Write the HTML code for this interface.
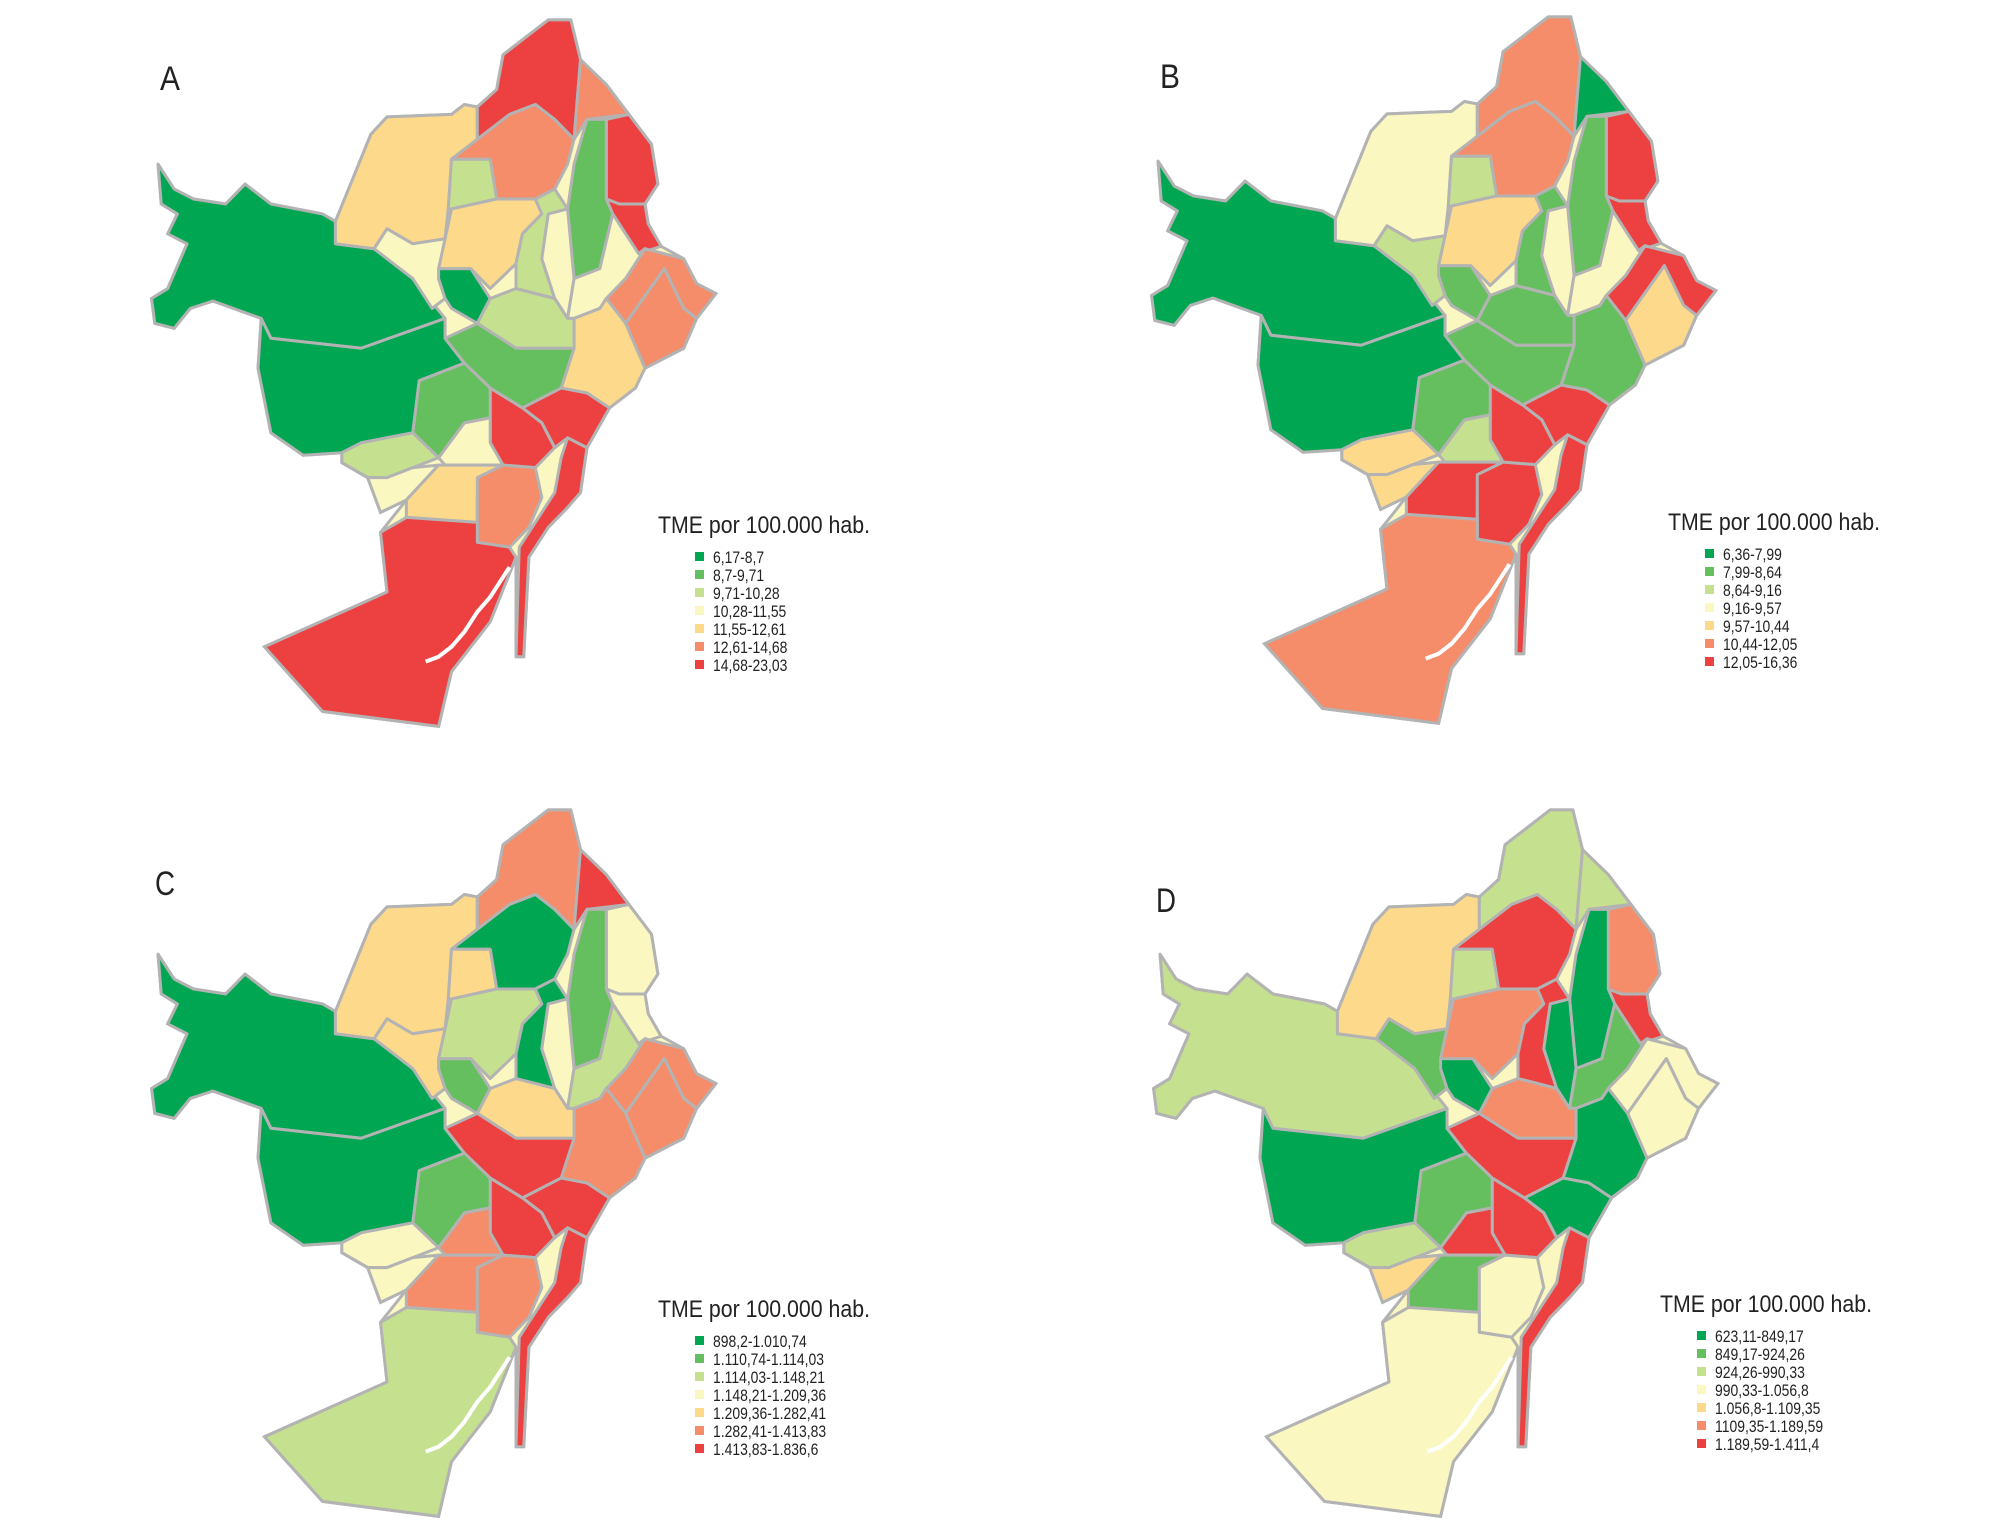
<!DOCTYPE html>
<html><head><meta charset="utf-8">
<style>
html,body{margin:0;padding:0;background:#fff;}
svg{display:block;}
.lbl{font-family:"Liberation Sans Narrow","Liberation Sans",sans-serif;fill:#222;}
</style></head>
<body>
<svg id="fig" width="1995" height="1540" viewBox="0 0 1995 1540" xmlns="http://www.w3.org/2000/svg">
<rect width="1995" height="1540" fill="#fff"/>
</svg>
<script>
const palette = ["#00a651","#66bf5f","#c5e08e","#fbf7c0","#fdd98b","#f58d6a","#ed4040"];
const panelNames = ["A","B","C","D"];
const legendA = ["6,17-8,7","8,7-9,71","9,71-10,28","10,28-11,55","11,55-12,61","12,61-14,68","14,68-23,03"];
const legendB = ["6,36-7,99","7,99-8,64","8,64-9,16","9,16-9,57","9,57-10,44","10,44-12,05","12,05-16,36"];
const legendC = ["898,2-1.010,74","1.110,74-1.114,03","1.114,03-1.148,21","1.148,21-1.209,36","1.209,36-1.282,41","1.282,41-1.413,83","1.413,83-1.836,6"];
const legendD = ["623,11-849,17","849,17-924,26","924,26-990,33","990,33-1.056,8","1.056,8-1.109,35","1109,35-1.189,59","1.189,59-1.411,4"];
// class index per district, per panel
const classA = [0,0,4,3,0,6,5,6,6,1,5,2,4,2,3,3,5,5,4,2,1,6,6,1,2,3,3,4,5,6,6];
const classB = [0,0,3,2,1,5,0,6,6,1,5,2,4,1,3,3,6,4,1,1,1,6,6,1,4,2,4,6,6,5,6];
const classC = [0,0,4,4,1,5,6,3,3,1,0,4,2,0,3,2,5,5,5,4,6,6,6,1,3,5,3,5,5,2,6];
const classD = [2,0,4,1,0,2,2,5,6,0,6,2,5,6,0,1,3,3,0,5,6,0,6,1,2,6,4,1,3,3,6];
const underlayClass = [3,3,3,3];

const outline = [[245,330],[270,380],[300,400],[350,410],[380,370],[420,410],[500,430],[520,445],[575,270],[600,235],[700,230],[720,210],[740,215],[770,180],[780,110],[830,60],[850,40],[885,40],[900,120],[940,170],[975,230],[1010,290],[1020,370],[1000,410],[1005,450],[1025,495],[1060,520],[1080,570],[1110,590],[1080,640],[1060,700],[1000,740],[985,780],[945,820],[910,900],[900,990],[880,1020],[850,1060],[820,1120],[812,1320],[800,1320],[800,1120],[760,1250],[700,1350],[680,1460],[500,1430],[410,1300],[600,1190],[590,1070],[630,1005],[590,1030],[570,960],[530,930],[530,910],[470,915],[420,870],[400,740],[405,640],[330,605],[295,620],[270,660],[240,650],[235,600],[260,580],[290,490],[260,470],[275,430],[250,410]];

const districts = [
 ["west-hills-upper",[[245,330],[270,380],[300,400],[350,410],[380,370],[420,410],[500,430],[520,445],[520,490],[580,500],[640,560],[690,640],[560,700],[420,680],[405,640],[330,605],[295,620],[270,660],[240,650],[235,600],[260,580],[290,490],[260,470],[275,430],[250,410]]],
 ["west-hills-lower",[[405,640],[420,680],[560,700],[690,640],[690,680],[720,730],[650,765],[640,870],[560,890],[530,910],[470,915],[420,870],[400,740]]],
 ["horta-north",[[520,445],[575,270],[600,235],[700,230],[720,210],[740,215],[740,280],[700,320],[695,420],[690,480],[640,490],[600,460],[580,500],[520,490]]],
 ["horta-south",[[580,500],[600,460],[640,490],[690,480],[700,540],[680,560],[690,600],[670,620],[640,560]]],
 ["vallcarca",[[680,540],[730,540],[760,600],[740,650],[700,620],[690,600],[680,560]]],
 ["nou-barris-north",[[740,215],[770,180],[780,110],[830,60],[850,40],[885,40],[900,120],[890,280],[860,240],[830,210],[790,230],[760,260],[740,280]]],
 ["nou-barris-east",[[900,120],[940,170],[975,230],[910,240],[890,280]]],
 ["sant-andreu-east",[[975,230],[1010,290],[1020,370],[1000,410],[960,410],[940,400],[940,240]]],
 ["sant-andreu-south",[[940,400],[960,410],[1000,410],[1005,450],[1025,495],[990,510],[950,430]]],
 ["green-strip",[[910,240],[940,240],[940,400],[950,430],[930,540],[890,560],[880,420],[890,330]]],
 ["nou-barris-mid",[[740,280],[760,260],[790,230],[830,210],[860,240],[890,280],[880,330],[860,380],[830,400],[770,400],[760,320],[700,320]]],
 ["horta-west",[[700,320],[760,320],[770,400],[700,420],[695,420]]],
 ["gracia-north",[[700,420],[770,400],[830,400],[840,430],[810,470],[800,530],[760,580],[730,540],[680,540],[690,480]]],
 ["guinardo",[[830,400],[860,380],[880,420],[850,430],[840,520],[860,600],[800,580],[800,530],[810,470],[840,430]]],
 ["camp-arpa",[[850,430],[880,420],[890,560],[880,640],[860,600],[840,520]]],
 ["clot",[[930,540],[950,430],[990,510],[1000,500],[970,560],[940,600],[930,620],[890,640],[880,640],[890,560]]],
 ["sant-marti-north",[[1000,500],[1060,520],[1080,570],[1110,590],[1080,640],[1060,620],[1030,540],[970,650],[940,600],[970,560]]],
 ["sant-marti-coast",[[970,650],[1030,540],[1060,620],[1080,640],[1060,700],[1000,740],[980,680]]],
 ["poblenou",[[890,640],[930,620],[940,600],[970,650],[980,680],[1000,740],[985,780],[945,820],[910,790],[870,780],[890,700]]],
 ["eixample-north",[[740,650],[760,600],[800,580],[860,600],[880,640],[890,640],[890,700],[860,700],[800,700]]],
 ["eixample-center",[[690,680],[740,650],[800,700],[860,700],[890,700],[870,780],[810,820],[760,780],[720,730]]],
 ["ciutat-vella-east",[[810,820],[870,780],[910,790],[945,820],[910,900],[880,880],[860,900],[840,850]]],
 ["ciutat-vella-west",[[760,840],[760,780],[810,820],[840,850],[860,900],[830,940],[780,935],[760,890]]],
 ["sants",[[650,765],[720,730],[760,780],[760,840],[720,850],[680,920],[640,870]]],
 ["les-corts-south",[[560,890],[640,870],[680,920],[640,940],[600,960],[570,960],[530,930],[530,910]]],
 ["hostafrancs",[[720,850],[760,840],[760,890],[780,935],[690,935],[680,920]]],
 ["la-marina-west",[[530,930],[570,960],[600,960],[640,940],[680,935],[630,1005],[590,1030],[570,960]]],
 ["poble-sec",[[680,935],[780,935],[740,1000],[740,1050],[630,1040],[630,1005]]],
 ["montjuic",[[740,960],[780,935],[830,940],[840,1000],[820,1060],[790,1100],[740,1090],[740,1000]]],
 ["zona-franca",[[590,1070],[630,1040],[740,1050],[740,1090],[790,1100],[800,1120],[760,1250],[700,1350],[680,1460],[500,1430],[410,1300],[600,1190]]],
 ["barceloneta-coast",[[880,880],[910,900],[900,990],[880,1020],[850,1060],[820,1120],[812,1320],[800,1320],[805,1100],[840,1030],[860,990],[870,920]]]
];
const panelOffsets = [[0,0],[1000,-3],[0,790],[1002,790]];
const legendOffsets = [[0,0],[1010,-3],[0,784],[1002,779]];
const labelPos = [[160,90],[1160,88],[155,895],[1156,912]];

const svgNS = "http://www.w3.org/2000/svg";
const fig = document.getElementById("fig");
const classes = [classA,classB,classC,classD];
const legends = [legendA,legendB,legendC,legendD];

for (let p=0;p<4;p++){
  const g = document.createElementNS(svgNS,"g");
  g.setAttribute("transform",`translate(${panelOffsets[p][0]},${panelOffsets[p][1]}) scale(0.645,0.4975)`);
  
  
  fig.appendChild(g);
  const under = document.createElementNS(svgNS,"polygon");
  under.setAttribute("points", outline.map(q=>q.join(",")).join(" "));
  under.setAttribute("fill", palette[underlayClass[p]]);
  under.setAttribute("stroke","#b3b3b3");
  under.setAttribute("stroke-width","3");
  under.setAttribute("vector-effect","non-scaling-stroke");
  
  
  g.appendChild(under);
  districts.forEach((d,i)=>{
    const poly = document.createElementNS(svgNS,"polygon");
    poly.setAttribute("points", d[1].map(q=>q.join(",")).join(" "));
    poly.setAttribute("fill", palette[classes[p][i]]);
    poly.setAttribute("stroke","#b3b3b3");
    poly.setAttribute("stroke-width","3");
    poly.setAttribute("stroke-linejoin","round");
    poly.setAttribute("vector-effect","non-scaling-stroke");
    
    
    g.appendChild(poly);
  });
  const water = document.createElementNS(svgNS,"polyline");
  water.setAttribute("points","790,1140 760,1200 740,1230 720,1270 700,1300 680,1320 660,1330");
  water.setAttribute("fill","none");
  water.setAttribute("stroke","#fff");
  water.setAttribute("stroke-width","4");
  water.setAttribute("vector-effect","non-scaling-stroke");
  
  
  g.appendChild(water);

  const lab = document.createElementNS(svgNS,"text");
  lab.setAttribute("x",labelPos[p][0]);
  lab.setAttribute("y",labelPos[p][1]);
  lab.setAttribute("class","lbl");
  lab.setAttribute("font-size","34");
  lab.setAttribute("textLength","20");
  lab.setAttribute("lengthAdjust","spacingAndGlyphs");
  lab.textContent = panelNames[p];
  
  
  fig.appendChild(lab);

  const lg = document.createElementNS(svgNS,"g");
  lg.setAttribute("transform",`translate(${legendOffsets[p][0]},${legendOffsets[p][1]})`);
  
  
  fig.appendChild(lg);
  const title = document.createElementNS(svgNS,"text");
  title.setAttribute("x",658);
  title.setAttribute("y",533);
  title.setAttribute("class","lbl");
  title.setAttribute("font-size","24");
  title.setAttribute("textLength","212");
  title.setAttribute("lengthAdjust","spacingAndGlyphs");
  title.textContent = "TME por 100.000 hab.";
  
  
  lg.appendChild(title);
  const tg = document.createElementNS(svgNS,"g");
  tg.setAttribute("transform","translate(713,0) scale(0.82,1)");
  
  
  lg.appendChild(tg);
  legends[p].forEach((t,k)=>{
    const cy = 557 + k*18;
    const sw = document.createElementNS(svgNS,"rect");
    sw.setAttribute("x",695); sw.setAttribute("y",cy-5);
    sw.setAttribute("width",9); sw.setAttribute("height",9);
    sw.setAttribute("fill",palette[k]);
    
    
    lg.appendChild(sw);
    const tx = document.createElementNS(svgNS,"text");
    tx.setAttribute("x",0); tx.setAttribute("y",cy+6);
    tx.setAttribute("class","lbl");
    tx.setAttribute("font-size","17");
    tx.textContent = t;
    
    
    tg.appendChild(tx);
  });
}
</script>
</body></html>
